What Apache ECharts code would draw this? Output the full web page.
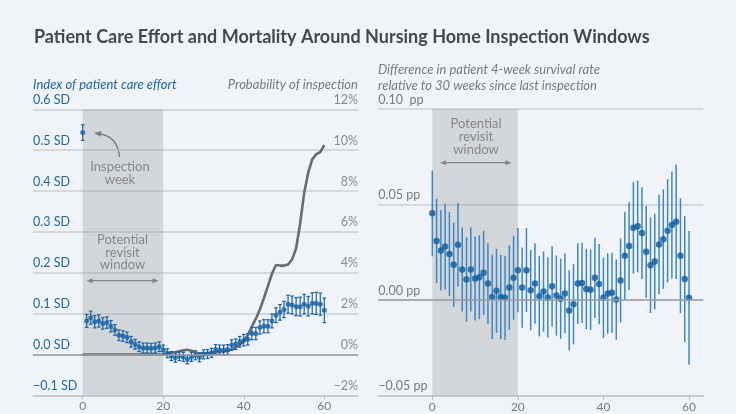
<!DOCTYPE html>
<html>
<head>
<meta charset="utf-8">
<script src="https://cdn.jsdelivr.net/npm/echarts@6/dist/echarts.min.js"></script>
<style>
html,body{margin:0;padding:0;background:#f0f4f9;}
#c{width:736px;height:414px;}
</style>
</head>
<body>
<div id="c"></div>
<script>
// ---------- DATA ----------
// Left panel: index of patient care effort (SD) by weeks since last inspection (index = week 0..60)
const effort = [0.543, 0.082, 0.090, 0.080, 0.082, 0.076, 0.078, 0.069, 0.060, 0.047,
  0.045, 0.042, 0.031, 0.025, 0.019, 0.016, 0.016, 0.015, 0.016, 0.019,
  0.011, 0.003, -0.004, -0.008, -0.004, -0.006, -0.012, -0.006, -0.002, -0.007,
  0.000, 0.001, 0.004, 0.012, 0.011, 0.011, 0.012, 0.023, 0.025, 0.031,
  0.035, 0.037, 0.051, 0.051, 0.066, 0.069, 0.069, 0.082, 0.096, 0.103,
  0.110, 0.123, 0.121, 0.117, 0.117, 0.123, 0.118, 0.125, 0.125, 0.123, 0.108];
const effortErr = [0.019, 0.016, 0.016, 0.015, 0.015, 0.014, 0.014, 0.014, 0.013, 0.013,
  0.013, 0.013, 0.013, 0.012, 0.012, 0.012, 0.012, 0.012, 0.012, 0.012,
  0.012, 0.011, 0.011, 0.011, 0.011, 0.011, 0.011, 0.011, 0.011, 0.011,
  0.011, 0.011, 0.011, 0.012, 0.012, 0.012, 0.012, 0.013, 0.013, 0.013,
  0.014, 0.014, 0.015, 0.015, 0.016, 0.016, 0.016, 0.017, 0.018, 0.019,
  0.020, 0.022, 0.022, 0.022, 0.023, 0.024, 0.024, 0.026, 0.027, 0.027, 0.030];
// Probability of inspection (%) by week 0..60
const inspProb = [0, 0, 0, 0, 0, 0, 0, 0, 0, 0,
  0, 0, 0, 0, 0, 0, 0, 0, 0, 0,
  0, 0.05, 0.10, 0.12, 0.15, 0.20, 0.23, 0.18, 0.10, 0.05,
  0.05, 0.07, 0.08, 0.10, 0.12, 0.14, 0.17, 0.25, 0.35, 0.46,
  0.65, 0.95, 1.35, 1.75, 2.20, 2.75, 3.35, 3.95, 4.38, 4.35,
  4.35, 4.40, 4.65, 5.20, 6.40, 7.90, 8.90, 9.55, 9.80, 9.90, 10.25];
// Right panel: difference in 4-week survival rate (pp), week 0..60
const surv = [0.0454, 0.0309, 0.0260, 0.0281, 0.0241, 0.0185, 0.0290, 0.0160, 0.0108, 0.0160,
  0.0113, 0.0120, 0.0143, 0.0087, 0.0017, 0.0049, 0.0017, 0.0012, 0.0066, 0.0117,
  0.0157, 0.0066, 0.0157, 0.0052, 0.0087, 0.0020, 0.0045, 0.0014, 0.0072, 0.0024,
  0.0007, 0.0035, -0.0054, -0.0021, 0.0087, 0.0090, 0.0058, 0.0054, 0.0117, 0.0084,
  0.0012, 0.0035, 0.0038, 0.0003, 0.0103, 0.0232, 0.0283, 0.0379, 0.0386, 0.0351,
  0.0253, 0.0183, 0.0202, 0.0291, 0.0319, 0.0363, 0.0393, 0.0410, 0.0232, 0.0110, 0.0012];
const survErr = [0.0225, 0.022, 0.021, 0.0225, 0.022, 0.022, 0.022, 0.022, 0.022, 0.022,
  0.022, 0.022, 0.022, 0.021, 0.022, 0.022, 0.022, 0.022, 0.022, 0.022,
  0.022, 0.021, 0.022, 0.021, 0.021, 0.021, 0.021, 0.021, 0.021, 0.021,
  0.021, 0.021, 0.021, 0.021, 0.021, 0.021, 0.021, 0.021, 0.021, 0.021,
  0.021, 0.021, 0.021, 0.021, 0.022, 0.023, 0.023, 0.024, 0.024, 0.024,
  0.024, 0.025, 0.025, 0.026, 0.026, 0.027, 0.028, 0.030, 0.030, 0.033, 0.035];
const xTicks = [0, 20, 40, 60];
const windowRange = [0, 20];
const sdTicks = { min: -0.1, max: 0.6, interval: 0.1 };
const pctTicks = { min: -2, max: 12, interval: 2 };
const ppTicks = { min: -0.05, max: 0.10, interval: 0.05 };

// ---------- CHART ----------
const FONT = 'Lato, "Source Sans Pro", "Noto Sans", sans-serif';
const BG = '#f0f4f9';
const GRIDC = '#cdd1d6';
const ZEROC = '#9b9fa4';
const GRAY = '#7a7a7a';
const BLUE = '#1f64a6';
const MINUS = '\u2212';

const chart = echarts.init(document.getElementById('c'), null, { renderer: 'canvas' });

const effortPts = effort.map((v, i) => [i, v]);
const effortBars = effort.map((v, i) => [i, v - effortErr[i], v + effortErr[i]]);
const probPts = inspProb.map((v, i) => [i, v]);
const survPts = surv.map((v, i) => [i, v]);
const survBars = surv.map((v, i) => [i, v - survErr[i], v + survErr[i]]);

function errRender(capHalf, color, width) {
  return function (params, api) {
    const x = api.value(0);
    const p1 = api.coord([x, api.value(1)]);
    const p2 = api.coord([x, api.value(2)]);
    const ch = [{ type: 'line', shape: { x1: p1[0], y1: p1[1], x2: p2[0], y2: p2[1] },
      style: { stroke: color, lineWidth: width } }];
    if (capHalf > 0) {
      ch.push({ type: 'line', shape: { x1: p1[0] - capHalf, y1: p1[1], x2: p1[0] + capHalf, y2: p1[1] }, style: { stroke: color, lineWidth: width } });
      ch.push({ type: 'line', shape: { x1: p2[0] - capHalf, y1: p2[1], x2: p2[0] + capHalf, y2: p2[1] }, style: { stroke: color, lineWidth: width } });
    }
    return { type: 'group', children: ch };
  };
}

function fmtSD(v) {
  const a = Math.abs(v) < 1e-9 ? 0 : v;
  return (a < 0 ? MINUS : '') + Math.abs(a).toFixed(1) + ' SD';
}
function fmtPct(v) {
  const a = Math.abs(v) < 1e-9 ? 0 : v;
  return (a < 0 ? MINUS : '') + Math.round(Math.abs(a)) + '%';
}
function fmtPP(v) {
  const a = Math.abs(v) < 1e-9 ? 0 : v;
  const s = (a < 0 ? MINUS : '') + Math.abs(a).toFixed(2);
  return s + (Math.abs(a - 0.1) < 1e-9 ? '  pp' : ' pp');
}

const xAxisCommon = {
  type: 'value',
  splitLine: { show: false },
  axisLine: { show: true, onZero: false, lineStyle: { color: '#c3c7cc', width: 1.5 } },
  axisTick: { show: true, customValues: xTicks, length: 4, lineStyle: { color: '#b5b9be', width: 1 } },
  axisLabel: { customValues: xTicks, color: GRAY, fontSize: 12, fontFamily: FONT, margin: 5 }
};

// arrow helpers
function dblArrow(x1, x2, y) {
  const c = '#7d7f83';
  return [
    { type: 'line', shape: { x1: x1 + 3, y1: y, x2: x2 - 3, y2: y }, style: { stroke: c, lineWidth: 1.3 } },
    { type: 'polygon', shape: { points: [[x1, y], [x1 + 6, y - 2.5], [x1 + 6, y + 2.5]] }, style: { fill: c } },
    { type: 'polygon', shape: { points: [[x2, y], [x2 - 6, y - 2.5], [x2 - 6, y + 2.5]] }, style: { fill: c } }
  ];
}
function txt(x, y, text, opts) {
  return { type: 'text', x: x, y: y, style: Object.assign({
    text: text, fontFamily: FONT, fontSize: 13, fill: GRAY, textAlign: 'center', textVerticalAlign: 'middle'
  }, opts || {}) };
}

// curved arrow to inspection week point
const cA = { x1: 119.5, y1: 157, cx: 118, cy: 136, x2: 94, y2: 133 };
const dx = cA.x2 - cA.cx, dy = cA.y2 - cA.cy, dl = Math.hypot(dx, dy);
const ux = dx / dl, uy = dy / dl;
const tip = [cA.x2 - ux * 0, cA.y2 - uy * 0];
const base = [tip[0] - ux * 7, tip[1] - uy * 7];
const head = [tip, [base[0] - uy * 3, base[1] + ux * 3], [base[0] + uy * 3, base[1] - ux * 3]];

const option = {
  backgroundColor: BG,
  animation: false,
  grid: [
    { left: 33, top: 109.3, width: 325, height: 286 },
    { left: 378.3, top: 109, width: 325, height: 286.7 }
  ],
  xAxis: [
    Object.assign({ gridIndex: 0, min: -12.34, max: 68.37 }, xAxisCommon),
    Object.assign({ gridIndex: 1, min: -12.62, max: 63.34 }, xAxisCommon)
  ],
  yAxis: [
    { type: 'value', gridIndex: 0, position: 'left', min: sdTicks.min, max: sdTicks.max, interval: sdTicks.interval,
      axisLine: { show: false }, axisTick: { show: false },
      splitLine: { show: true, lineStyle: { color: GRIDC, width: 1.5 } },
      axisLabel: { inside: true, margin: 0, verticalAlign: 'bottom', padding: [0, 0, 3, 0], color: BLUE, fontSize: 12.5, fontFamily: FONT, formatter: fmtSD } },
    { type: 'value', gridIndex: 0, position: 'right', min: pctTicks.min, max: pctTicks.max, interval: pctTicks.interval,
      axisLine: { show: false }, axisTick: { show: false }, splitLine: { show: false },
      axisLabel: { inside: true, margin: 0, verticalAlign: 'bottom', padding: [0, 0, 3, 0], color: '#8a8a8a', fontSize: 12.5, fontFamily: FONT, formatter: fmtPct } },
    { type: 'value', gridIndex: 1, position: 'left', min: ppTicks.min, max: ppTicks.max, interval: ppTicks.interval,
      axisLine: { show: false }, axisTick: { show: false },
      splitLine: { show: true, lineStyle: { color: GRIDC, width: 1.5 } },
      axisLabel: { inside: true, margin: 0, verticalAlign: 'bottom', padding: [0, 0, 3, 0], color: GRAY, fontSize: 12.5, fontFamily: FONT, formatter: fmtPP } }
  ],
  series: [
    // left shading + zero line
    { type: 'line', xAxisIndex: 0, yAxisIndex: 0, data: [], z: 1, silent: true,
      markArea: { silent: true, itemStyle: { color: 'rgba(150,148,146,0.30)' }, data: [[{ xAxis: windowRange[0] }, { xAxis: windowRange[1] }]] },
      markLine: { silent: true, symbol: 'none', label: { show: false }, lineStyle: { color: ZEROC, width: 1.5, type: 'solid' }, data: [{ yAxis: 0 }] } },
    // probability of inspection
    { type: 'line', xAxisIndex: 0, yAxisIndex: 1, data: probPts, z: 2, showSymbol: false, symbol: 'none',
      lineStyle: { color: '#6b6c70', width: 2.6 }, silent: true },
    // effort error bars
    { type: 'custom', xAxisIndex: 0, yAxisIndex: 0, data: effortBars, z: 3, silent: true,
      renderItem: errRender(1.8, '#1a62a6', 1.2), encode: { x: 0, y: [1, 2] } },
    // effort points
    { type: 'scatter', xAxisIndex: 0, yAxisIndex: 0, data: effortPts, z: 4, symbolSize: 5, silent: true,
      itemStyle: { color: '#1461a5' } },
    // right shading + zero line
    { type: 'line', xAxisIndex: 1, yAxisIndex: 2, data: [], z: 1, silent: true,
      markArea: { silent: true, itemStyle: { color: 'rgba(150,148,146,0.30)' }, data: [[{ xAxis: windowRange[0] }, { xAxis: windowRange[1] }]] },
      markLine: { silent: true, symbol: 'none', label: { show: false }, lineStyle: { color: ZEROC, width: 1.5, type: 'solid' }, data: [{ yAxis: 0 }] } },
    // survival CI bars
    { type: 'custom', xAxisIndex: 1, yAxisIndex: 2, data: survBars, z: 3, silent: true,
      renderItem: errRender(0, '#3d86c6', 1.5), encode: { x: 0, y: [1, 2] } },
    // survival points
    { type: 'scatter', xAxisIndex: 1, yAxisIndex: 2, data: survPts, z: 4, symbolSize: 6.5, silent: true,
      itemStyle: { color: '#0e5c9f' } }
  ],
  graphic: [
    txt(34, 37, 'Patient Care Effort and Mortality Around Nursing Home Inspection Windows',
      { textAlign: 'left', fontSize: 18, fontWeight: 'bold', fill: '#45484d' }),
    txt(33, 85, 'Index of patient care effort', { textAlign: 'left', fontStyle: 'italic', fill: BLUE, fontSize: 13 }),
    txt(358, 85, 'Probability of inspection', { textAlign: 'right', fontStyle: 'italic', fill: '#7a7a7a', fontSize: 13 }),
    txt(378, 70, 'Difference in patient 4-week survival rate', { textAlign: 'left', fontStyle: 'italic', fill: '#7a7a7a', fontSize: 13 }),
    txt(378, 86, 'relative to 30 weeks since last inspection', { textAlign: 'left', fontStyle: 'italic', fill: '#7a7a7a', fontSize: 13 }),
    // left annotations
    txt(120, 167, 'Inspection', { fill: '#808080' }),
    txt(120, 180, 'week', { fill: '#808080' }),
    { type: 'bezierCurve', shape: { x1: cA.x1, y1: cA.y1, cpx1: cA.cx, cpy1: cA.cy, x2: cA.x2 - ux * 4, y2: cA.y2 - uy * 4 },
      style: { stroke: '#6f7175', lineWidth: 1.3, fill: null } },
    { type: 'polygon', shape: { points: head }, style: { fill: '#6f7175' } },
    txt(122.5, 240, 'Potential', { fill: '#808080' }),
    txt(122.5, 252.5, 'revisit', { fill: '#808080' }),
    txt(122.5, 265, 'window', { fill: '#808080' }),
    ...dblArrow(86.5, 158.5, 280.7),
    // right annotations
    txt(476, 123.5, 'Potential', { fill: '#808080' }),
    txt(476, 137, 'revisit', { fill: '#808080' }),
    txt(476, 150, 'window', { fill: '#808080' }),
    ...dblArrow(440, 511.5, 162.7)
  ]
};
chart.setOption(option);
</script>
</body>
</html>
